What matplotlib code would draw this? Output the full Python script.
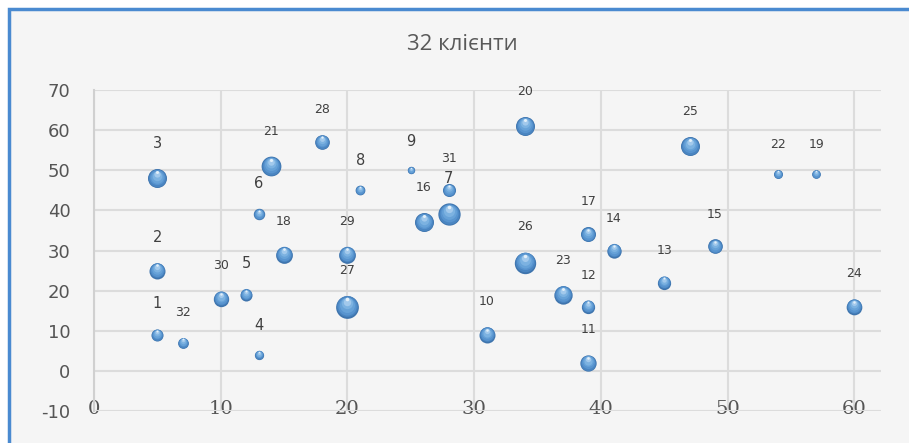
import matplotlib
matplotlib.use("Agg")
import matplotlib.pyplot as plt
from matplotlib.patches import Rectangle
from matplotlib.transforms import offset_copy

plt.rcParams["axes.unicode_minus"] = False

# client number, position and bubble size
clients = list(range(1, 33))
x_vals = [5, 5, 5, 13, 12, 13, 28, 21, 25, 31, 39, 39, 45, 41, 49, 26,
          39, 15, 57, 34, 14, 54, 37, 60, 47, 34, 20, 18, 20, 10, 28, 7]
y_vals = [9, 25, 48, 4, 19, 39, 39, 45, 50, 9, 2, 16, 22, 30, 31, 37,
          34, 29, 49, 61, 51, 49, 19, 16, 56, 27, 16, 57, 29, 18, 45, 7]
sizes = [29, 51, 72, 17, 29, 26, 99, 19, 11, 51, 53, 35, 35, 41, 43, 72,
         45, 56, 15, 72, 78, 16, 67, 49, 72, 91, 103, 43, 56, 47, 34, 23]

x_ticks = [0, 10, 20, 30, 40, 50, 60]
y_ticks = [-10, 0, 10, 20, 30, 40, 50, 60, 70]
title = "32 клієнти"

fig = plt.figure(figsize=(9.09, 4.43), dpi=100)
fig.patch.set_facecolor("white")

# chart frame
fig.patches.append(Rectangle((9 / 909, -0.05), 1.0, 1 - 9 / 443 + 0.05,
                             transform=fig.transFigure, facecolor="#f5f5f5",
                             edgecolor="#4a8ad0", linewidth=2.5, zorder=-10))

ax = fig.add_axes([94 / 909, 32 / 443, 787 / 909, 321 / 443])
ax.set_facecolor("none")
ax.set_xlim(0, 62.1)
ax.set_ylim(-10, 70)
ax.set_xticks(x_ticks)
ax.set_yticks(y_ticks)
for s in ["top", "right", "bottom"]:
    ax.spines[s].set_visible(False)
ax.spines["left"].set_color("#d0d0d0")
ax.spines["left"].set_linewidth(1.5)
ax.grid(True, color="#dcdcdc", linewidth=1.5)
ax.set_axisbelow(True)
ax.tick_params(axis="y", length=0, pad=17, labelsize=13, labelcolor="#555555")
ax.tick_params(axis="x", length=0, pad=-8, labelsize=14, labelcolor="#555555",
               labelfontfamily="DejaVu Serif")

# spheres: stacked discs from the dark rim to a light spot near the top
scale = 2.6
layers = [(1.0, 0.0, "#3e74ad"),
          (0.92, 0.02, "#4a85c1"),
          (0.80, 0.05, "#5894cf"),
          (0.66, 0.09, "#67a2d8"),
          (0.50, 0.14, "#7cb2e1"),
          (0.33, 0.22, "#a2c9ec"),
          (0.16, 0.32, "#e2eff9")]
for cx, cy, sz, cid in zip(x_vals, y_vals, sizes, clients):
    d = (sz * scale) ** 0.5
    for k, dy, col in layers:
        tr = offset_copy(ax.transData, fig=fig, x=0, y=dy * d, units="points")
        ax.scatter([cx], [cy], s=(d * k) ** 2, color=col,
                   linewidths=0, transform=tr, zorder=3)
    fs = 10.5 if cid < 10 else 9
    ax.annotate(str(cid), (cx, cy), xytext=(0, d / 2 + 18),
                textcoords="offset points", ha="center", va="center",
                fontsize=fs, color="#404040", zorder=4)

fig.text(0.509, 0.9, title, ha="center", va="center", fontsize=16,
         color="#595959", family=["Open Sans", "DejaVu Sans"])

fig.savefig("out.png", dpi=100)
